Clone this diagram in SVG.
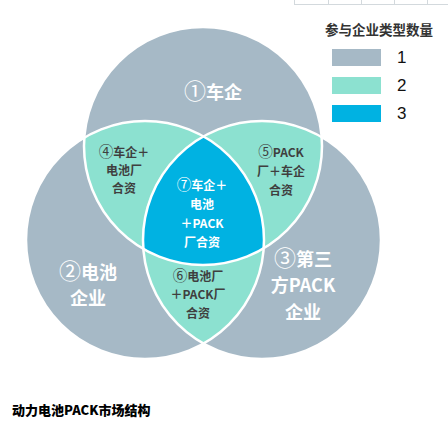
<svg xmlns="http://www.w3.org/2000/svg" width="448" height="431" viewBox="0 0 448 431">
<style>
.g1{fill:#A6B9C6}
.g2{fill:#8CE1D0}
.g3{fill:#00B2E2}
.out{fill:none;stroke:#fff;stroke-width:2.5}
.big{font-family:"Noto Sans CJK SC","Noto Sans",sans-serif;font-weight:bold;font-size:18px;fill:#fff;text-anchor:middle}
.sm{font-family:"Noto Sans CJK SC","Noto Sans",sans-serif;font-weight:bold;font-size:12px;fill:#3F3F3F;text-anchor:middle}
.smw{fill:#fff}
.c{font-weight:normal;font-size:1.22em}
.grid{stroke:#D3D9DD;stroke-width:1;fill:none}
.lg{font-family:"Liberation Sans",Arial,sans-serif;font-size:17px;fill:#111}
</style>
<defs>
<clipPath id="cT"><circle cx="203" cy="146" r="119"/></clipPath>
<clipPath id="cL"><circle cx="145" cy="240" r="119"/></clipPath>
<clipPath id="cR"><circle cx="262" cy="240" r="119"/></clipPath>
</defs>
<g id="grid">
<path class="grid" d="M294,4.5H448M294.5,0V4.5M328.5,0V4.5M361.5,0V4.5M394.5,0V4.5M427.5,0V4.5"/>
</g>
<g id="n1"><circle class="g1" cx="203" cy="146" r="119"/></g>
<g id="n2"><circle class="g1" cx="145" cy="240" r="119"/></g>
<g id="n3"><circle class="g1" cx="262" cy="240" r="119"/></g>
<g id="n4"><circle class="g2" cx="203" cy="146" r="119" clip-path="url(#cL)"/></g>
<g id="n5"><circle class="g2" cx="203" cy="146" r="119" clip-path="url(#cR)"/></g>
<g id="n6"><circle class="g2" cx="145" cy="240" r="119" clip-path="url(#cR)"/></g>
<g id="n7"><g clip-path="url(#cR)"><circle class="g3" cx="203" cy="146" r="119" clip-path="url(#cL)"/></g></g>
<g id="outlines">
<circle class="out" cx="203" cy="146" r="119"/>
<circle class="out" cx="145" cy="240" r="119"/>
<circle class="out" cx="262" cy="240" r="119"/>
</g>
<g id="labels">
<text class="big" x="213" y="99"><tspan class="c">①</tspan>车企</text>
<text class="sm" x="124" y="157"><tspan class="c">④</tspan>车企＋</text>
<text class="sm" x="124" y="175">电池厂</text>
<text class="sm" x="124" y="193">合资</text>
<text class="sm" x="281" y="157"><tspan class="c">⑤</tspan>PACK</text>
<text class="sm" x="281" y="176">厂＋车企</text>
<text class="sm" x="281" y="195">合资</text>
<text class="sm smw" x="202" y="190"><tspan class="c">⑦</tspan>车企＋</text>
<text class="sm smw" x="202" y="209">电池</text>
<text class="sm smw" x="202" y="228">＋PACK</text>
<text class="sm smw" x="202" y="247">厂合资</text>
<text class="big" x="88" y="279"><tspan class="c">②</tspan>电池</text>
<text class="big" x="88" y="305">企业</text>
<text class="sm" x="198" y="281"><tspan class="c">⑥</tspan>电池厂</text>
<text class="sm" x="198" y="299">＋PACK厂</text>
<text class="sm" x="198" y="318">合资</text>
<text class="big" x="303" y="266"><tspan class="c">③</tspan>第三</text>
<text class="big" x="303" y="292">方PACK</text>
<text class="big" x="303" y="319">企业</text>
</g>
<g id="legend">
<text x="379" y="35" style="font-family:'Noto Sans CJK SC',sans-serif;font-weight:bold;font-size:13.5px;fill:#333;text-anchor:middle">参与企业类型数量</text>
<rect class="g1" x="332" y="49" width="49" height="17"/>
<rect class="g2" x="332" y="77" width="49" height="17"/>
<rect class="g3" x="332" y="105" width="49" height="17"/>
<text class="lg" x="397" y="63">1</text>
<text class="lg" x="397" y="91">2</text>
<text class="lg" x="397" y="119">3</text>
</g>
<g id="caption">
<text x="12" y="415" style="font-family:'Noto Sans CJK SC',serif;font-weight:900;font-size:13px;fill:#000">动力电池PACK市场结构</text>
</g>
</svg>
